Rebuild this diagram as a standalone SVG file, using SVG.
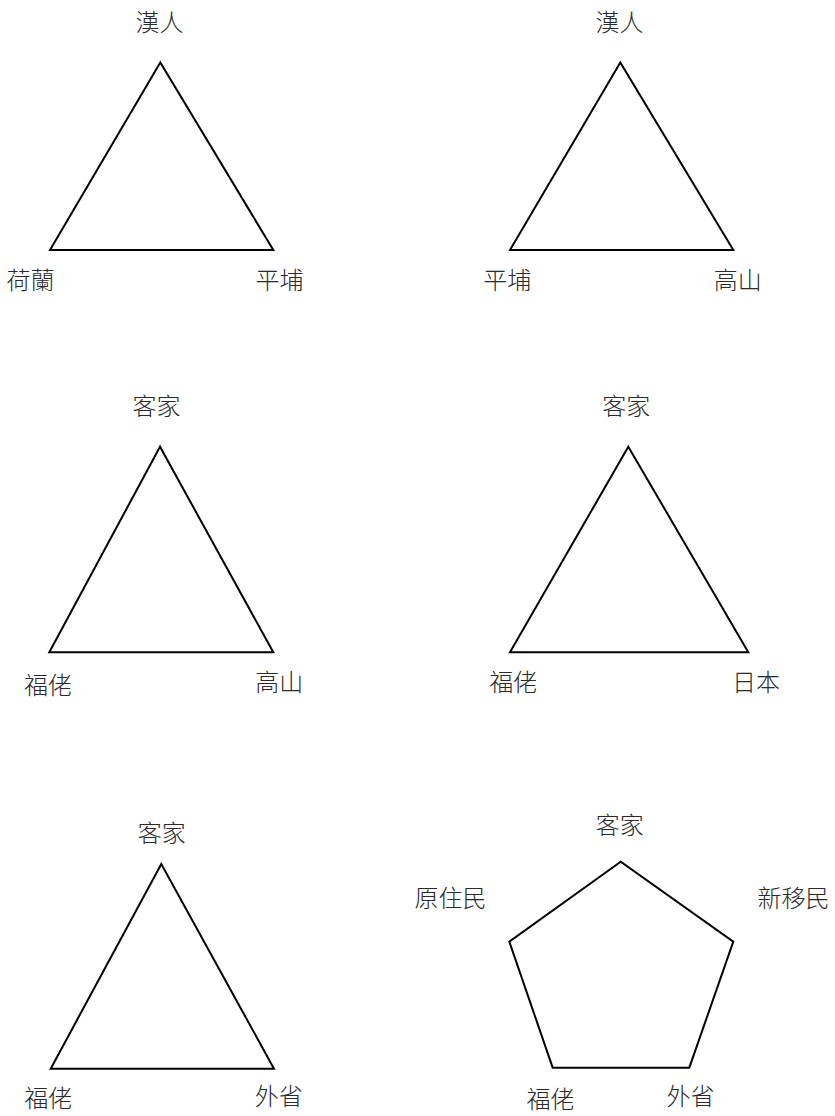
<svg xmlns="http://www.w3.org/2000/svg" width="835" height="1116" viewBox="0 0 835 1116">
<style>
.shape{fill:none;stroke:#000;stroke-width:2;stroke-linejoin:miter}
.lbl{font-family:"Noto Sans CJK TC","Noto Sans CJK SC",sans-serif;font-size:24px;font-weight:300;fill:#2a2a2a;text-anchor:middle}
</style>
<rect width="835" height="1116" fill="#fff"/>
<g id="connectors"></g>
<g id="tri1">
<polygon class="shape" points="160.3,62.5 50,250 273.3,250"/>
<text class="lbl" x="159.5" y="31">漢人</text>
<text class="lbl" x="30.5" y="289">荷蘭</text>
<text class="lbl" x="279.5" y="289">平埔</text>
</g>
<g id="tri2">
<polygon class="shape" points="620.3,62.5 510,250 733.3,250"/>
<text class="lbl" x="619.5" y="31">漢人</text>
<text class="lbl" x="507.3" y="289">平埔</text>
<text class="lbl" x="737.8" y="289">高山</text>
</g>
<g id="tri3">
<polygon class="shape" points="160,446.7 49.3,652.3 273.3,652.3"/>
<text class="lbl" x="156.5" y="415">客家</text>
<text class="lbl" x="48" y="694">福佬</text>
<text class="lbl" x="279.2" y="691">高山</text>
</g>
<g id="tri4">
<polygon class="shape" points="628.3,446.7 510,652.3 748.3,652.3"/>
<text class="lbl" x="626.3" y="415">客家</text>
<text class="lbl" x="513.3" y="691">福佬</text>
<text class="lbl" x="756" y="691">日本</text>
</g>
<g id="tri5">
<polygon class="shape" points="161.3,864 50.7,1068.7 274,1068.7"/>
<text class="lbl" x="161.8" y="842">客家</text>
<text class="lbl" x="48.3" y="1107">福佬</text>
<text class="lbl" x="278.8" y="1105">外省</text>
</g>
<g id="pentagon">
<polygon class="shape" points="620.7,861.7 509.3,941.7 552.7,1067.7 689.3,1067.7 733.3,941.7"/>
<text class="lbl" x="619.8" y="834">客家</text>
<text class="lbl" x="450.5" y="907">原住民</text>
<text class="lbl" x="793.5" y="907">新移民</text>
<text class="lbl" x="550.5" y="1108">福佬</text>
<text class="lbl" x="690.5" y="1105">外省</text>
</g>
</svg>
